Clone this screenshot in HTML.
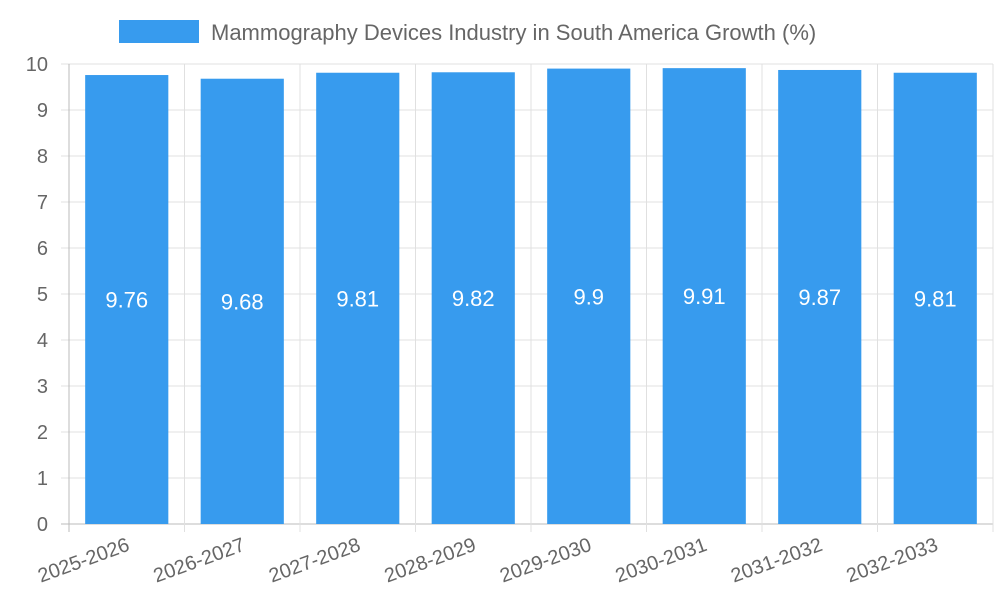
<!DOCTYPE html>
<html><head><meta charset="utf-8"><style>
body{margin:0;background:#fff;font-family:"Liberation Sans",sans-serif}
svg text{font-family:"Liberation Sans",sans-serif}
</style></head><body>
<svg id="chart" width="1000" height="600" xmlns="http://www.w3.org/2000/svg">
<g>
<rect x="119" y="20" width="80" height="23" fill="#379bee"/>
<text x="211" y="40" font-size="22" fill="#666">Mammography Devices Industry in South America Growth (%)</text>
</g>
<g id="grid"></g><g id="bars"></g><g id="labels"></g>
</svg>
<script>
const categories=["2025-2026","2026-2027","2027-2028","2028-2029","2029-2030","2030-2031","2031-2032","2032-2033"];
const values=[9.76,9.68,9.81,9.82,9.9,9.91,9.87,9.81];
const yTicks=[0,1,2,3,4,5,6,7,8,9,10];
const NS="http://www.w3.org/2000/svg";
const L=69,R=993,T=64,B=524,yMax=10;
const bw=(R-L)/categories.length;
const y=v=>B-(v/yMax)*(B-T);
const x=i=>L+i*bw;
function mk(tag,attrs,parent,txt){const e=document.createElementNS(NS,tag);for(const k in attrs)e.setAttribute(k,attrs[k]);if(txt!==undefined)e.textContent=txt;document.getElementById(parent).appendChild(e);return e;}
yTicks.forEach(t=>{
 const l=mk("line",{x1:L-8,x2:R,y1:y(t),y2:y(t),stroke:t===0?"#bbb":"#e0e0e0","stroke-width":1},"grid");
 
 
 const tx=mk("text",{x:48,y:y(t)+7,"font-size":20,fill:"#666","text-anchor":"end"},"grid",t);
 
 
});
for(let i=0;i<=categories.length;i++){
 const l=mk("line",{x1:x(i),x2:x(i),y1:T,y2:B+8,stroke:i===0?"#bbb":"#e0e0e0","stroke-width":1},"grid");
 
 
}
categories.forEach((c,i)=>{
 const w=bw*0.72,cx=x(i)+bw/2;
 const r=mk("rect",{x:cx-w/2,y:y(values[i]),width:w,height:B-y(values[i]),fill:"#379bee"},"bars");
 
 
 const v=mk("text",{x:cx,y:(y(values[i])+B)/2+8,"font-size":22,fill:"#fff","text-anchor":"middle"},"labels",values[i]);
 
 
 const t=mk("text",{x:cx+4,y:B+26,"font-size":20,fill:"#666","text-anchor":"end",transform:`rotate(-20 ${cx+4} ${B+26})`},"labels",c);
 
 
});
</script>
</body></html>
